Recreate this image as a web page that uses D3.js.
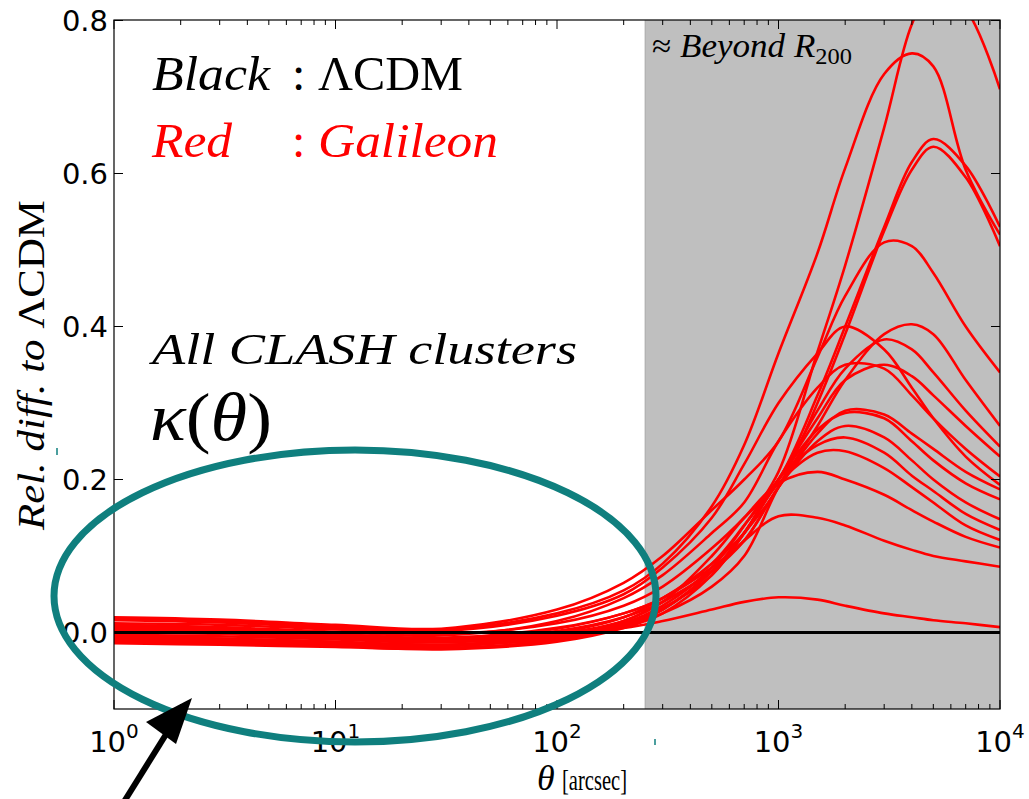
<!DOCTYPE html>
<html>
<head>
<meta charset="utf-8">
<script src="https://cdn.jsdelivr.net/npm/d3@7"></script>
<style>
  html, body { margin: 0; padding: 0; background: #ffffff; }
  svg { display: block; }
  .math { font-family: "Liberation Serif", "DejaVu Serif", serif; }
  .tick-label { font-family: "DejaVu Sans", sans-serif; }
</style>
</head>
<body>
<svg id="chart" width="1029" height="799"></svg>
<script>
// Angular sampling grid (arcsec) shared by all cluster curves
const thetaGrid = [1, 3, 10, 30, 100, 200, 300, 500, 700, 1000, 1500, 2000, 3000, 4000, 5000, 7000, 10000];

// Relative difference of the Galileon convergence to LCDM, one array per cluster
const cluster01 = [0.005, 0.003, -0.004, -0.012, -0.005, 0.012, 0.035, 0.085, 0.14, 0.21, 0.367, 0.48, 0.66, 0.795, 0.845, 0.815, 0.71];
const cluster02 = [0.018, 0.015, 0.008, 0.004, 0.025, 0.055, 0.09, 0.165, 0.245, 0.365, 0.496, 0.607, 0.73, 0.757, 0.74, 0.605, 0.52];
const cluster03 = [0.012, 0.01, 0.004, -0.002, 0.012, 0.035, 0.06, 0.11, 0.15, 0.2, 0.31, 0.40, 0.53, 0.615, 0.645, 0.61, 0.53];
const cluster04 = [-0.01, -0.012, -0.016, -0.02, -0.01, 0.01, 0.03, 0.08, 0.13, 0.19, 0.30, 0.39, 0.525, 0.605, 0.635, 0.595, 0.505];
const cluster05 = [0.02, 0.017, 0.01, 0.005, 0.03, 0.065, 0.1, 0.16, 0.2, 0.25, 0.36, 0.44, 0.51, 0.505, 0.47, 0.40, 0.34];
const cluster06 = [0.016, 0.013, 0.006, 0.002, 0.022, 0.05, 0.085, 0.15, 0.22, 0.3, 0.365, 0.40, 0.37, 0.32, 0.28, 0.23, 0.193];
const cluster07 = [-0.005, -0.008, -0.012, -0.016, -0.008, 0.008, 0.025, 0.06, 0.1, 0.19, 0.27, 0.33, 0.39, 0.403, 0.39, 0.33, 0.27];
const cluster08 = [0.008, 0.005, -0.002, -0.008, 0.005, 0.025, 0.045, 0.09, 0.14, 0.2, 0.29, 0.345, 0.383, 0.37, 0.34, 0.29, 0.243];
const cluster09 = [0.01, 0.007, 0.001, -0.004, 0.015, 0.045, 0.075, 0.13, 0.17, 0.25, 0.32, 0.35, 0.345, 0.31, 0.28, 0.24, 0.204];
const cluster10 = [-0.008, -0.01, -0.014, -0.018, -0.006, 0.012, 0.032, 0.075, 0.13, 0.2, 0.28, 0.33, 0.35, 0.335, 0.31, 0.27, 0.23];
const cluster11 = [0.004, 0.002, -0.004, -0.01, 0.002, 0.02, 0.04, 0.08, 0.12, 0.19, 0.26, 0.29, 0.285, 0.26, 0.24, 0.21, 0.187];
const cluster12 = [-0.012, -0.014, -0.018, -0.022, -0.012, 0.006, 0.025, 0.075, 0.13, 0.2, 0.265, 0.287, 0.28, 0.25, 0.225, 0.195, 0.174];
const cluster13 = [0.006, 0.004, -0.002, -0.007, 0.006, 0.025, 0.045, 0.085, 0.12, 0.19, 0.25, 0.27, 0.255, 0.225, 0.2, 0.17, 0.148];
const cluster14 = [-0.014, -0.016, -0.019, -0.021, -0.01, 0.008, 0.03, 0.08, 0.13, 0.2, 0.245, 0.255, 0.235, 0.205, 0.185, 0.155, 0.134];
const cluster15 = [0.002, 0.0, -0.006, -0.012, 0.0, 0.02, 0.045, 0.09, 0.13, 0.195, 0.235, 0.237, 0.215, 0.19, 0.17, 0.14, 0.121];
const cluster16 = [-0.006, -0.008, -0.012, -0.016, -0.004, 0.015, 0.04, 0.1, 0.15, 0.195, 0.21, 0.2, 0.18, 0.16, 0.145, 0.125, 0.111];
const cluster17 = [-0.003, -0.005, -0.009, -0.013, -0.002, 0.015, 0.04, 0.08, 0.12, 0.152, 0.15, 0.14, 0.12, 0.108, 0.1, 0.093, 0.086];
const cluster18 = [0.0, -0.002, -0.007, -0.01, 0.0, 0.006, 0.015, 0.03, 0.04, 0.046, 0.043, 0.035, 0.025, 0.02, 0.016, 0.012, 0.007];

// LCDM reference (zero relative difference)
const lcdmTheta = [1, 10000];
const lcdmValues = [0, 0];

// Beyond R200 shading starts here (arcsec)
const r200Theta = 250;

// Axis ticks
const xMajorTicks = [1, 10, 100, 1000, 10000];
const xTickExponents = ["0", "1", "2", "3", "4"];
const yTicks = [0.0, 0.2, 0.4, 0.6, 0.8];
const yTickLabels = ["0.0", "0.2", "0.4", "0.6", "0.8"];

const galileonCurves = [cluster01, cluster02, cluster03, cluster04, cluster05, cluster06,
  cluster07, cluster08, cluster09, cluster10, cluster11, cluster12, cluster13, cluster14,
  cluster15, cluster16, cluster17, cluster18];

const svg = d3.select("#chart");
const plot = { left: 114, right: 1000, top: 20, bottom: 709 };

const x = d3.scaleLog().domain([1, 10000]).range([plot.left, plot.right]);
const y = d3.scaleLinear().domain([-0.1, 0.8]).range([plot.bottom, plot.top + 0.5]);

svg.append("defs").append("clipPath").attr("id", "plotClip")
  .append("rect")
  .attr("x", plot.left).attr("y", plot.top)
  .attr("width", plot.right - plot.left).attr("height", plot.bottom - plot.top);

// Shaded region beyond R200
svg.append("rect")
  .attr("x", x(r200Theta)).attr("y", plot.top)
  .attr("width", plot.right - x(r200Theta)).attr("height", plot.bottom - plot.top)
  .attr("fill", "#bfbfbf");
svg.append("line")
  .attr("x1", x(r200Theta)).attr("x2", x(r200Theta))
  .attr("y1", plot.top).attr("y2", plot.bottom)
  .attr("stroke", "#a8a8a8").attr("stroke-width", 1);

const line = d3.line()
  .x(d => x(d[0]))
  .y(d => y(d[1]))
  .curve(d3.curveCatmullRom.alpha(0.5));

const curvesG = svg.append("g").attr("clip-path", "url(#plotClip)");
curvesG.selectAll("path.galileon")
  .data(galileonCurves)
  .join("path")
  .attr("class", "galileon")
  .attr("d", vals => line(thetaGrid.map((t, i) => [t, vals[i]])))
  .attr("fill", "none")
  .attr("stroke", "#ff0000")
  .attr("stroke-width", 2.6);

curvesG.append("path")
  .attr("d", line(lcdmTheta.map((t, i) => [t, lcdmValues[i]])))
  .attr("fill", "none")
  .attr("stroke", "#000000")
  .attr("stroke-width", 3);

// Frame
svg.append("rect")
  .attr("x", plot.left).attr("y", plot.top)
  .attr("width", plot.right - plot.left).attr("height", plot.bottom - plot.top)
  .attr("fill", "none").attr("stroke", "#000").attr("stroke-width", 1.2);

// Inward ticks on all four sides
const axesG = svg.append("g");
const minorTicks = [];
for (let e = 0; e < 4; e++) for (let m = 2; m <= 9; m++) minorTicks.push(m * Math.pow(10, e));

function vTick(px, yEdge, len, dir) {
  axesG.append("line").attr("x1", px).attr("x2", px)
    .attr("y1", yEdge).attr("y2", yEdge + dir * len)
    .attr("stroke", "#000").attr("stroke-width", 1);
}
xMajorTicks.forEach(t => { vTick(x(t), plot.bottom, 9, -1); vTick(x(t), plot.top, 9, 1); });
minorTicks.forEach(t => { vTick(x(t), plot.bottom, 5, -1); vTick(x(t), plot.top, 5, 1); });
yTicks.forEach(v => {
  axesG.append("line").attr("x1", plot.left).attr("x2", plot.left + 9)
    .attr("y1", y(v)).attr("y2", y(v)).attr("stroke", "#000").attr("stroke-width", 1);
  axesG.append("line").attr("x1", plot.right).attr("x2", plot.right - 9)
    .attr("y1", y(v)).attr("y2", y(v)).attr("stroke", "#000").attr("stroke-width", 1);
});

// Tick labels
yTicks.forEach((v, i) => {
  axesG.append("text").attr("class", "tick-label")
    .attr("x", plot.left - 6).attr("y", y(v) + 10)
    .attr("text-anchor", "end").attr("font-size", 29)
    .text(yTickLabels[i]);
});
xMajorTicks.forEach((t, i) => {
  const tx = axesG.append("text").attr("class", "tick-label")
    .attr("x", x(t)).attr("y", plot.bottom + 43)
    .attr("text-anchor", "middle").attr("font-size", 29);
  tx.append("tspan").text("10");
  tx.append("tspan").attr("font-size", 20).attr("dy", -14).text(xTickExponents[i]);
});

// Axis titles
svg.append("text").attr("class", "math")
  .attr("x", 537).attr("y", 790).attr("font-size", 36).attr("font-style", "italic")
  .text("θ");
svg.append("text").attr("class", "math")
  .attr("x", 562).attr("y", 790).attr("font-size", 30)
  .attr("textLength", 65).attr("lengthAdjust", "spacingAndGlyphs")
  .text("[arcsec]");

const yt = svg.append("text").attr("class", "math")
  .attr("transform", "translate(44,365) rotate(-90)")
  .attr("text-anchor", "middle").attr("font-size", 38)
  .attr("textLength", 330).attr("lengthAdjust", "spacingAndGlyphs");
yt.append("tspan").attr("font-style", "italic").text("Rel. diff. to ");
yt.append("tspan").text("ΛCDM");

// Legend-style annotations
function word(xPos, yPos, size, str, opts) {
  const t = svg.append("text").attr("class", "math")
    .attr("x", xPos).attr("y", yPos).attr("font-size", size)
    .attr("fill", opts.fill || "#000")
    .attr("font-style", opts.italic ? "italic" : "normal");
  if (opts.len) t.attr("textLength", opts.len).attr("lengthAdjust", "spacingAndGlyphs");
  t.text(str);
  return t;
}
word(152, 90, 48, "Black", { italic: true, len: 118 });
word(292, 90, 48, ":", {});
word(318, 90, 48, "ΛCDM", { len: 145 });
word(152, 157, 48, "Red", { italic: true, len: 80, fill: "#ff0000" });
word(292, 157, 48, ":", { fill: "#ff0000" });
word(318, 157, 48, "Galileon", { italic: true, len: 180, fill: "#ff0000" });

word(152, 364, 45, "All CLASH clusters", { italic: true, len: 425 });

const kt = svg.append("text").attr("class", "math").attr("x", 150).attr("y", 440)
  .attr("font-size", 68).attr("textLength", 122).attr("lengthAdjust", "spacingAndGlyphs");
kt.append("tspan").attr("font-style", "italic").text("κ");
kt.append("tspan").text("(");
kt.append("tspan").attr("font-style", "italic").text("θ");
kt.append("tspan").text(")");

const bt = svg.append("text").attr("class", "math").attr("x", 652).attr("y", 57)
  .attr("font-size", 33).attr("textLength", 200).attr("lengthAdjust", "spacingAndGlyphs");
bt.append("tspan").text("≈ ");
bt.append("tspan").attr("font-style", "italic").text("Beyond R");
bt.append("tspan").attr("font-size", 23).attr("dy", 7).text("200");

// Highlight of the inner region
svg.append("ellipse")
  .attr("cx", 355).attr("cy", 596).attr("rx", 301).attr("ry", 146)
  .attr("fill", "none").attr("stroke", "#0f7f7e").attr("stroke-width", 7);
svg.append("line").attr("x1", 655).attr("x2", 655).attr("y1", 739).attr("y2", 745)
  .attr("stroke", "#0f7f7e").attr("stroke-width", 1.5);
svg.append("line").attr("x1", 57).attr("x2", 57).attr("y1", 448).attr("y2", 455)
  .attr("stroke", "#0f7f7e").attr("stroke-width", 1.5);

// Pointer arrow
svg.append("line")
  .attr("x1", 122).attr("y1", 805).attr("x2", 170).attr("y2", 728)
  .attr("stroke", "#000").attr("stroke-width", 6);
svg.append("path")
  .attr("d", "M192,698 L146,722 L176,744 Z")
  .attr("fill", "#000");
</script>
</body>
</html>
